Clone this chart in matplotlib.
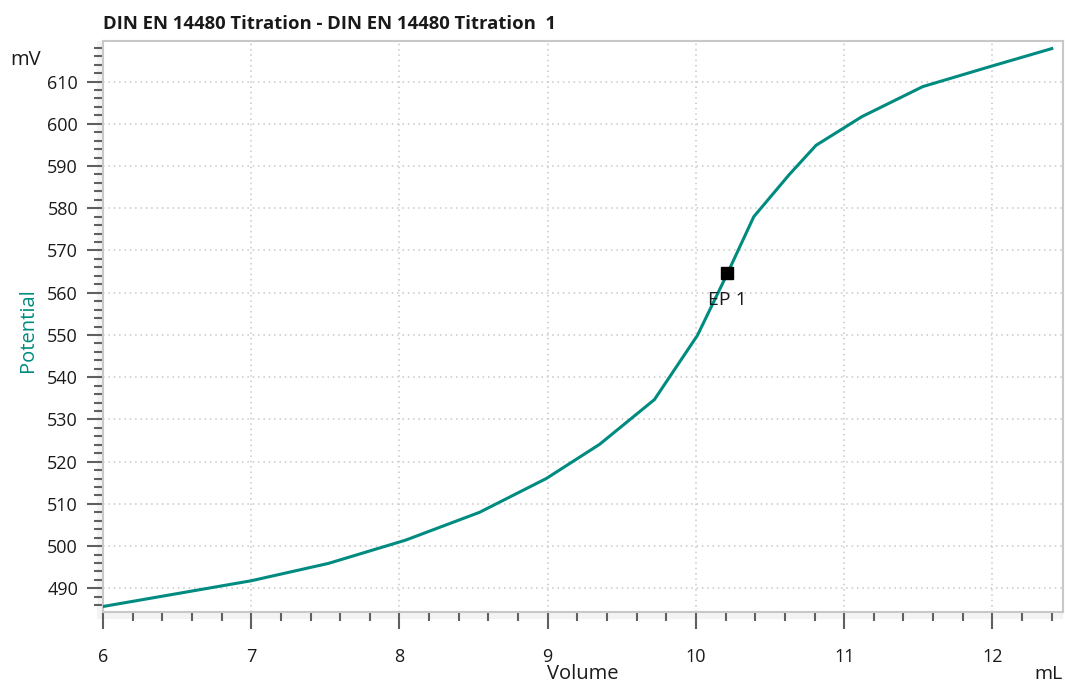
import matplotlib
matplotlib.use("Agg")
import matplotlib.pyplot as plt
from matplotlib.ticker import MultipleLocator
from matplotlib.patches import Rectangle

plt.rcParams['font.family'] = ['Open Sans', 'DejaVu Sans']

volume = [6.0, 7.0, 7.52, 8.04, 8.54, 8.99, 9.35, 9.72, 10.01, 10.21, 10.39,
          10.63, 10.81, 11.12, 11.53, 11.98, 12.40]
potential = [485.7, 491.8, 495.9, 501.4, 508.0, 516.0, 524.1, 534.7, 549.9,
             564.4, 578.0, 588.0, 594.9, 601.7, 608.8, 613.5, 617.8]
ep_volume = [10.21]
ep_potential = [564.6]
ep_label = "EP 1"

teal = "#008b80"
W, H = 1065, 684
fig = plt.figure(figsize=(10.65, 6.84), dpi=100)

# light strips behind the axes lines
fig.patches.append(Rectangle((97/W, 1-618/H), 6/W, (618-41)/H, transform=fig.transFigure,
                             facecolor='#f3f3f3', edgecolor='none', zorder=-1))
fig.patches.append(Rectangle((97/W, 1-619/H), (1063-97)/W, 7/H, transform=fig.transFigure,
                             facecolor='#f3f3f3', edgecolor='none', zorder=-1))

ax = fig.add_axes([103/W, 1-612/H, 960/W, 571/H])

ax.plot(volume, potential, color=teal, lw=2.2, zorder=3, solid_joinstyle='round')
ax.plot(ep_volume, ep_potential, marker='s', ms=9, color='black', ls='none', zorder=4)
ax.annotate(ep_label, (ep_volume[0], ep_potential[0]), xytext=(0, -19),
            textcoords='offset points', ha='center', va='center', fontsize=14,
            color='#1a1a1a')

ax.set_xlim(6, 12.476)
ax.set_ylim(484.4, 619.6)
ax.xaxis.set_major_locator(MultipleLocator(1))
ax.xaxis.set_minor_locator(MultipleLocator(0.2))
ax.yaxis.set_major_locator(MultipleLocator(10))
ax.yaxis.set_minor_locator(MultipleLocator(2))

ax.grid(True, which='major', color='#c8c8c8', ls=(0, (1, 2.5)), lw=1.1)
for s in ax.spines.values():
    s.set_color('#c8c8c8')
    s.set_linewidth(1.5)

ax.tick_params(axis='both', which='both', color='#606060', width=1.5, labelsize=13,
               labelcolor='#1a1a1a')
ax.tick_params(axis='x', which='major', length=12.2, pad=14)
ax.tick_params(axis='x', which='minor', length=6.5)
ax.tick_params(axis='y', which='major', length=11.5, pad=6.5)
ax.tick_params(axis='y', which='minor', length=6.5)

fig.text(103/W, 1-24/H, "DIN EN 14480 Titration - DIN EN 14480 Titration  1",
         fontsize=13.3, fontweight='bold', ha='left', va='center', color='#1a1a1a')
fig.text(26/W, 1-60/H, "mV", fontsize=14.5, ha='center', va='center', color='#1a1a1a')
fig.text(1048/W, 1-674/H, "mL", fontsize=14, ha='center', va='center', color='#1a1a1a')
fig.text(583/W, 1-674/H, "Volume", fontsize=14.5, ha='center', va='center', color='#1a1a1a')
fig.text(28/W, 1-330/H, "Potential", fontsize=14.5, ha='center', va='center',
         rotation=90, color=teal)

fig.savefig("out.png", dpi=100)
